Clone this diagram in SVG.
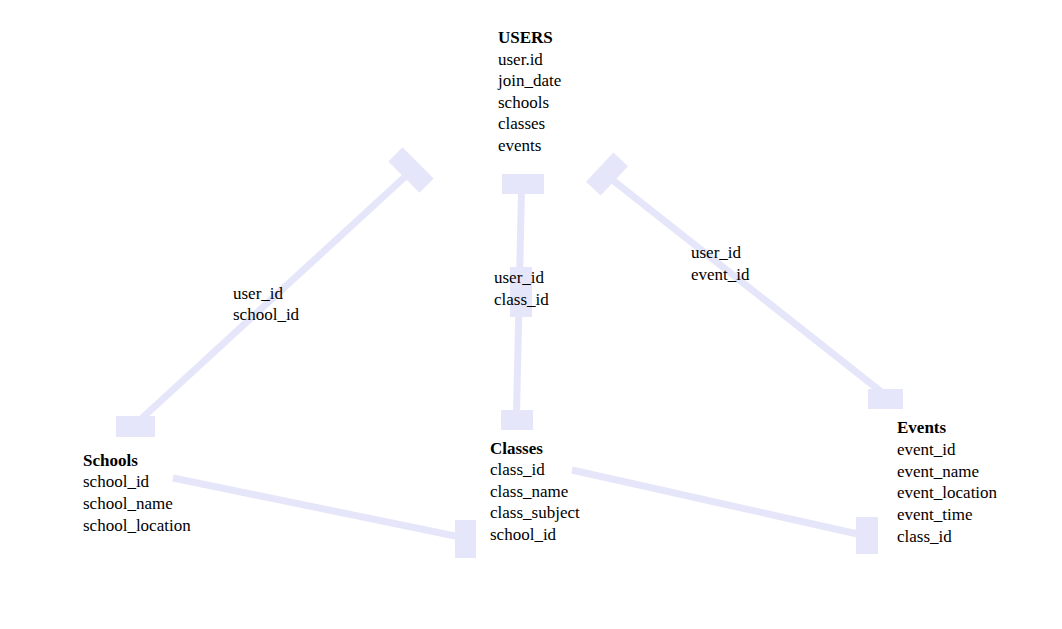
<svg xmlns="http://www.w3.org/2000/svg" width="1062" height="629" viewBox="0 0 1062 629" font-family="Liberation Serif, Times New Roman, serif" font-size="17">
<style>
  .title { font-weight: bold; }
  .line { stroke: #E6E6FA; stroke-width: 7; fill: none; }
  .cap { fill: #E6E6FA; }
</style>
<rect width="1062" height="629" fill="#fff"/>
<g id="connectors">
  <g id="users-schools">
    <line class="line" x1="140" y1="420" x2="408" y2="174"/>
    <rect class="cap" x="116" y="416" width="39" height="21"/>
    <rect class="cap" x="-22" y="-10" width="44" height="20" transform="translate(411,170) rotate(45)"/>
    <text x="233" y="299">user_id</text>
    <text x="233" y="320">school_id</text>
  </g>
  <g id="users-classes">
    <line class="line" x1="521.5" y1="190" x2="516.5" y2="414"/>
    <rect class="cap" x="502" y="174" width="42" height="20"/>
    <rect class="cap" x="501" y="410" width="32" height="20"/>
    <rect class="cap" x="510" y="267" width="22" height="50"/>
    <text x="494" y="283">user_id</text>
    <text x="494" y="305">class_id</text>
  </g>
  <g id="users-events">
    <line class="line" x1="610" y1="178" x2="884" y2="394"/>
    <rect class="cap" x="868" y="389" width="35" height="20"/>
    <rect class="cap" x="-20" y="-10" width="40" height="20" transform="translate(607,174) rotate(-47)"/>
    <text x="691" y="258">user_id</text>
    <text x="691" y="280">event_id</text>
  </g>
  <g id="schools-classes">
    <line class="line" x1="173" y1="478" x2="460" y2="537"/>
    <rect class="cap" x="455" y="520" width="21" height="38"/>
  </g>
  <g id="classes-events">
    <line class="line" x1="572" y1="470" x2="862" y2="535"/>
    <rect class="cap" x="856" y="517" width="22" height="37"/>
  </g>
</g>
<g id="users">
  <text class="title" x="498" y="43">USERS</text>
  <text x="498" y="65">user.id</text>
  <text x="498" y="86">join_date</text>
  <text x="498" y="108">schools</text>
  <text x="498" y="129">classes</text>
  <text x="498" y="151">events</text>
</g>
<g id="schools">
  <text class="title" x="83" y="466">Schools</text>
  <text x="83" y="487">school_id</text>
  <text x="83" y="509">school_name</text>
  <text x="83" y="531">school_location</text>
</g>
<g id="classes">
  <text class="title" x="490" y="454">Classes</text>
  <text x="490" y="475">class_id</text>
  <text x="490" y="497">class_name</text>
  <text x="490" y="518">class_subject</text>
  <text x="490" y="540">school_id</text>
</g>
<g id="events">
  <text class="title" x="897" y="433">Events</text>
  <text x="897" y="455">event_id</text>
  <text x="897" y="477">event_name</text>
  <text x="897" y="498">event_location</text>
  <text x="897" y="520">event_time</text>
  <text x="897" y="542">class_id</text>
</g>
</svg>
